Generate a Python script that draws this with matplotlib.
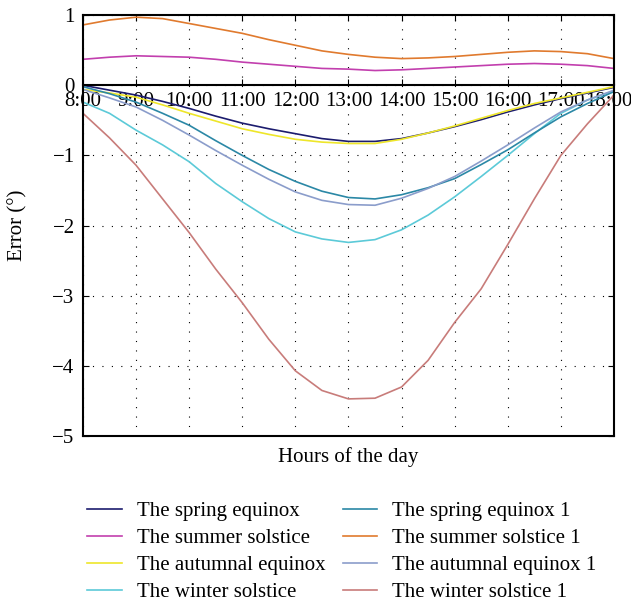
"""
Tracking error against hour of the day, eight curves.
"""
import matplotlib
matplotlib.use("Agg")
import matplotlib.pyplot as plt
from matplotlib.transforms import ScaledTranslation

plt.rcParams['font.family'] = ['Liberation Serif', 'DejaVu Serif']
plt.rcParams['font.size'] = 15

hours = [8, 8.5, 9, 9.5, 10, 10.5, 11, 11.5, 12, 12.5, 13,
         13.5, 14, 14.5, 15, 15.5, 16, 16.5, 17, 17.5, 18]
hour_ticks = list(range(8, 19))
hour_labels = ["{}:00".format(h) for h in hour_ticks]

spring = [0, -0.07, -0.14, -0.23, -0.33, -0.44, -0.54, -0.62, -0.69, -0.76, -0.80,
          -0.80, -0.76, -0.68, -0.59, -0.49, -0.38, -0.28, -0.19, -0.11, -0.03]
summer = [0.37, 0.40, 0.42, 0.41, 0.40, 0.37, 0.33, 0.30, 0.27, 0.24, 0.23,
          0.21, 0.22, 0.24, 0.26, 0.28, 0.30, 0.31, 0.30, 0.28, 0.24]
autumnal = [-0.06, -0.11, -0.17, -0.28, -0.40, -0.51, -0.62, -0.70, -0.77, -0.81, -0.83,
            -0.83, -0.77, -0.68, -0.58, -0.47, -0.36, -0.26, -0.18, -0.10, -0.02]
winter = [-0.24, -0.40, -0.64, -0.85, -1.09, -1.40, -1.66, -1.90, -2.09, -2.19, -2.24,
          -2.20, -2.06, -1.85, -1.59, -1.30, -1.00, -0.69, -0.40, -0.21, -0.08]
spring1 = [-0.02, -0.12, -0.24, -0.40, -0.57, -0.79, -1.00, -1.20, -1.37, -1.51, -1.60,
           -1.62, -1.56, -1.46, -1.33, -1.13, -0.92, -0.68, -0.45, -0.26, -0.09]
summer1 = [0.86, 0.93, 0.97, 0.95, 0.88, 0.81, 0.74, 0.65, 0.57, 0.49, 0.44,
           0.40, 0.38, 0.39, 0.41, 0.44, 0.47, 0.49, 0.48, 0.45, 0.38]
autumnal1 = [-0.06, -0.18, -0.31, -0.50, -0.71, -0.93, -1.14, -1.34, -1.52, -1.64, -1.70,
             -1.71, -1.61, -1.47, -1.30, -1.08, -0.85, -0.61, -0.38, -0.21, -0.07]
winter1 = [-0.40, -0.75, -1.14, -1.62, -2.10, -2.62, -3.10, -3.62, -4.07, -4.35, -4.47,
           -4.46, -4.30, -3.92, -3.38, -2.90, -2.27, -1.62, -1.00, -0.55, -0.14]

series = [
    ("The spring equinox", spring, "#1c1c6e"),
    ("The summer solstice", summer, "#c23fae"),
    ("The autumnal equinox", autumnal, "#eee62a"),
    ("The winter solstice", winter, "#5ccad8"),
    ("The spring equinox 1", spring1, "#2b88a6"),
    ("The summer solstice 1", summer1, "#e07a2e"),
    ("The autumnal equinox 1", autumnal1, "#8b9dcb"),
    ("The winter solstice 1", winter1, "#c87c7a"),
]

fig = plt.figure(figsize=(6.31, 6.04), dpi=100)
ax = fig.add_axes([0.1315, 0.278, 0.8415, 0.697])

for name, vals, col in series:
    ax.plot(hours, vals, color=col, lw=1.2, label=name)

ax.set_xlim(8, 18)
ax.set_ylim(-5, 1)
ax.set_xticks(hour_ticks)
ax.set_xticklabels(hour_labels, fontsize=14)
ax.set_yticks(range(-5, 2))
ax.set_yticklabels([str(v).replace("-", "\u2212") for v in range(-5, 2)])

ax.grid(True, color="k", lw=0.8, linestyle=(0, (1, 7.5)))

# x axis sits on the zero line, the box is closed by hand at -5
ax.spines['bottom'].set_position(('data', 0))
ax.plot([0, 1], [0, 0], transform=ax.transAxes, color="k", lw=1.5, clip_on=False)
for s in ax.spines.values():
    s.set_linewidth(1.5)
ax.tick_params(axis='x', direction='in', top=True, length=4, pad=5)
ax.tick_params(axis='y', direction='in', right=True, length=4, pad=6)

# last hour label nudged left so it stays on the canvas
last = ax.get_xticklabels()[-1]
last.set_transform(last.get_transform() + ScaledTranslation(-4 / 72, 0, fig.dpi_scale_trans))

ax.set_xlabel("Hours of the day")
ax.xaxis.set_label_coords(0.5, -0.025)
ax.set_ylabel("Error (\u00b0)")
ax.yaxis.set_label_coords(-0.105, 0.5)

fig.legend(loc='upper left', bbox_to_anchor=(0.122, 0.187), ncol=2, frameon=False,
           handlelength=1.65, handletextpad=0.72, columnspacing=0.85,
           labelspacing=0.36, borderpad=0)

fig.savefig("out.png", dpi=100)
